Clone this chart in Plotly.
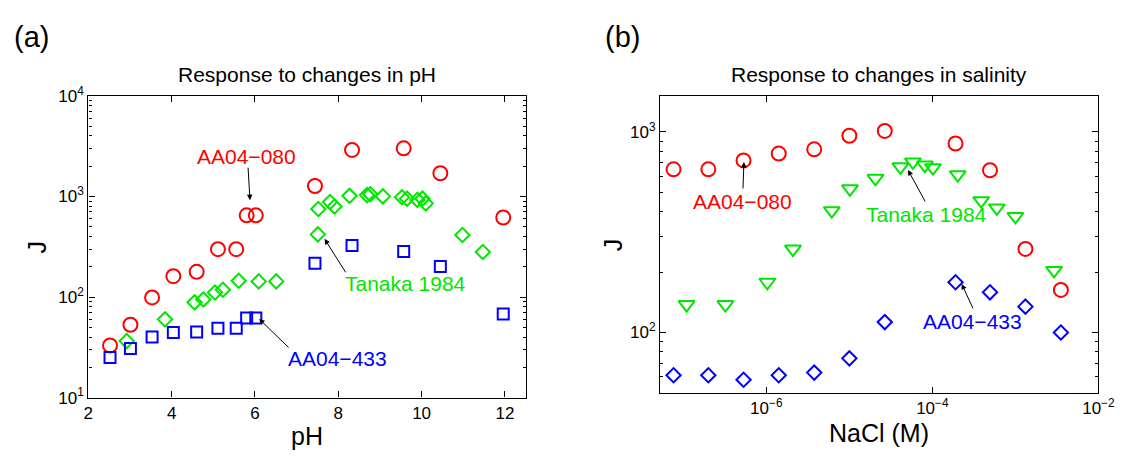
import numpy as np
import plotly.graph_objects as go

# ---------------- data ----------------
# Panel (a): response to pH
ph_red_x = [2.52, 3.01, 3.53, 4.04, 4.60, 5.11, 5.55, 5.80, 6.02, 7.44, 8.33, 9.57, 10.45, 11.96]
ph_red_y = [33, 53, 99, 161, 178, 299, 299, 649, 649, 1268, 2897, 3006, 1700, 617]
ph_blue_x = [2.52, 3.01, 3.53, 4.04, 4.60, 5.11, 5.55, 5.80, 6.02, 7.44, 8.33, 9.57, 10.45, 11.96]
ph_blue_y = [25, 30.7, 40, 44.3, 44.9, 49, 49, 61.8, 61.8, 216, 326, 284, 201, 67.8]
ph_green_x = [2.92, 3.84, 4.55, 4.76, 5.04, 5.23, 5.61, 6.09, 6.51, 7.51, 7.52, 7.80, 7.91, 8.27,
              8.69, 8.77, 9.07, 9.53, 9.65, 9.90, 10.02, 10.10, 10.98, 11.47]
ph_green_y = [36.5, 60, 88.5, 94.4, 111, 118, 145, 143, 143, 419, 750, 879, 794, 1013,
              1030, 1050, 1000, 980, 950, 923, 950, 852, 413, 280]

# Panel (b): response to salinity
nacl_x = [7.62e-8, 2.0e-7, 5.31e-7, 1.41e-6, 3.77e-6, 1.0e-5, 2.67e-5, 1.90e-4, 4.94e-4, 1.32e-3, 3.53e-3]
sal_red_y = [651, 651, 721, 780, 819, 957, 1011, 875, 644, 261, 163]
sal_blue_y = [61.2, 61.2, 58.1, 61.2, 63.1, 74.3, 112.7, 178, 158.6, 134.5, 100]
tanaka_x = [1.094e-7, 3.21e-7, 1.028e-6, 2.09e-6, 6.14e-6, 1.016e-5, 2.06e-5, 4.12e-5, 5.82e-5,
            8.11e-5, 1.016e-4, 2.02e-4, 3.87e-4, 5.97e-4, 1.0e-3, 2.92e-3]
tanaka_y = [137.7, 137.7, 178, 260.6, 405, 520, 587, 670, 708, 683, 663, 612, 454, 418, 379, 204]

ph_ticks = [2, 4, 6, 8, 10, 12]
j_ticks_a = [10, 100, 1000, 10000]
j_ticktext_a = ["10<sup>1</sup>", "10<sup>2</sup>", "10<sup>3</sup>", "10<sup>4</sup>"]
j_ticks_b = [100, 1000]
j_ticktext_b = ["10<sup>2</sup>", "10<sup>3</sup>"]
nacl_ticks = [1e-6, 1e-4, 1e-2]
nacl_ticktext = ["10<sup>−6</sup>", "10<sup>−4</sup>", "10<sup>−2</sup>"]

# ---------------- styles ----------------
FONT = "Liberation Sans, Arial, Helvetica, sans-serif"
RED = "#ff0000"
GREEN = "#00e600"
BLUE = "#0000ff"
W, H = 1138, 460

def px_x(p):
    return p / W

def px_y(p):
    return 1 - p / H

fig = go.Figure()

def mk(x, y, symbol, color, size, xa, ya):
    fig.add_trace(go.Scatter(
        x=x, y=y, mode="markers", xaxis=xa, yaxis=ya, showlegend=False,
        marker=dict(symbol=symbol, size=size, color=color,
                    line=dict(color=color, width=2))))

mk(ph_red_x, ph_red_y, "circle-open", RED, 14, "x", "y")
mk(ph_green_x, ph_green_y, "diamond-open", GREEN, 11, "x", "y")
mk(ph_blue_x, ph_blue_y, "square-open", BLUE, 11, "x", "y")

mk(nacl_x, sal_red_y, "circle-open", RED, 14, "x2", "y2")
mk(tanaka_x, tanaka_y, "triangle-down-open", GREEN, 14, "x2", "y2")
mk(nacl_x, sal_blue_y, "diamond-open", BLUE, 11, "x2", "y2")

common = dict(showline=True, linecolor="black", linewidth=1.3, mirror="allticks",
              ticks="inside", ticklen=6, tickwidth=1, tickcolor="black",
              showgrid=False, zeroline=False,
              tickfont=dict(family=FONT, size=17, color="black"))

minor_log = dict(ticks="inside", ticklen=3, tickwidth=1, tickcolor="black", dtick="D1", showgrid=False)

fig.update_layout(
    width=W, height=H,
    margin=dict(l=0, r=0, t=0, b=0),
    paper_bgcolor="white", plot_bgcolor="white",
    font=dict(family=FONT, color="black"),
    xaxis=dict(domain=[px_x(85), px_x(531)], range=[2, 12.5], tickmode="array",
               tickvals=ph_ticks, anchor="y", **common),
    yaxis=dict(domain=[px_y(405), px_y(88)], type="log", range=[1, 4], tickmode="array",
               tickvals=j_ticks_a, ticktext=j_ticktext_a, anchor="x", minor=minor_log, **common),
    xaxis2=dict(domain=[px_x(668), px_x(1115)], type="log", range=[-7.28, -2], tickmode="array",
                tickvals=nacl_ticks, ticktext=nacl_ticktext, anchor="y2", **common),
    yaxis2=dict(domain=[px_y(400), px_y(88)], type="log", range=[np.log10(50), 3.18], tickmode="array",
                tickvals=j_ticks_b, ticktext=j_ticktext_b, anchor="x2", minor=minor_log, **common),
)

ann = []

def text_paper(txt, xp, yp, size, color="black", angle=0):
    ann.append(dict(text=txt, x=px_x(xp), y=px_y(yp), xref="paper", yref="paper",
                    showarrow=False, xanchor="center", yanchor="middle", textangle=angle,
                    font=dict(family=FONT, size=size, color=color)))

# panel labels, titles and axis titles
text_paper("(a)", 27, 26, 29)
text_paper("(b)", 630, 26, 29)
text_paper("Response to changes in pH", 308, 66, 21)
text_paper("Response to changes in salinity", 891, 66, 21)
text_paper("pH", 308, 445, 25)
text_paper("NaCl (M)", 891, 442, 25)
text_paper("J", 33, 247, 25, angle=-90)
text_paper("J", 620, 245, 25, angle=-90)

# data-space labels (log axes use log10 coordinates)
def label(txt, x, y, xr, yr, color):
    ann.append(dict(text=txt, x=x, y=y, xref=xr, yref=yr, showarrow=False,
                    xanchor="center", yanchor="middle",
                    font=dict(family=FONT, size=21, color=color)))

def arrow(x, y, ax, ay, xr, yr):
    ann.append(dict(text="", x=x, y=y, ax=ax, ay=ay, xref=xr, yref=yr, axref="pixel", ayref="pixel",
                    showarrow=True, arrowhead=2, arrowsize=1.1, arrowwidth=1, arrowcolor="black"))

# panel (a)
label("AA04−080", 5.80, np.log10(2506), "x", "y", RED)
arrow(5.88, np.log10(917), -2, -34, "x", "y")
label("Tanaka 1984", 9.62, np.log10(136), "x", "y", GREEN)
arrow(7.67, np.log10(379), 22, 35, "x", "y")
label("AA04−433", 7.99, np.log10(24.6), "x", "y", BLUE)
arrow(6.10, np.log10(60.5), 31, 30, "x", "y")

# panel (b)
label("AA04−080", -6.282, np.log10(450), "x2", "y2", RED)
arrow(-6.27, np.log10(708), -1, 28, "x2", "y2")
label("Tanaka 1984", -4.073, np.log10(388), "x2", "y2", GREEN)
arrow(-4.294, np.log10(646), 18, 33, "x2", "y2")
label("AA04−433", -3.514, np.log10(113.5), "x2", "y2", BLUE)
arrow(-3.647, np.log10(174.6), 12, 26, "x2", "y2")

fig.update_layout(annotations=ann)

fig.write_html("out.html", config={"displayModeBar": False},
               post_script="document.body.style.margin='0';document.body.style.overflow='hidden';")
